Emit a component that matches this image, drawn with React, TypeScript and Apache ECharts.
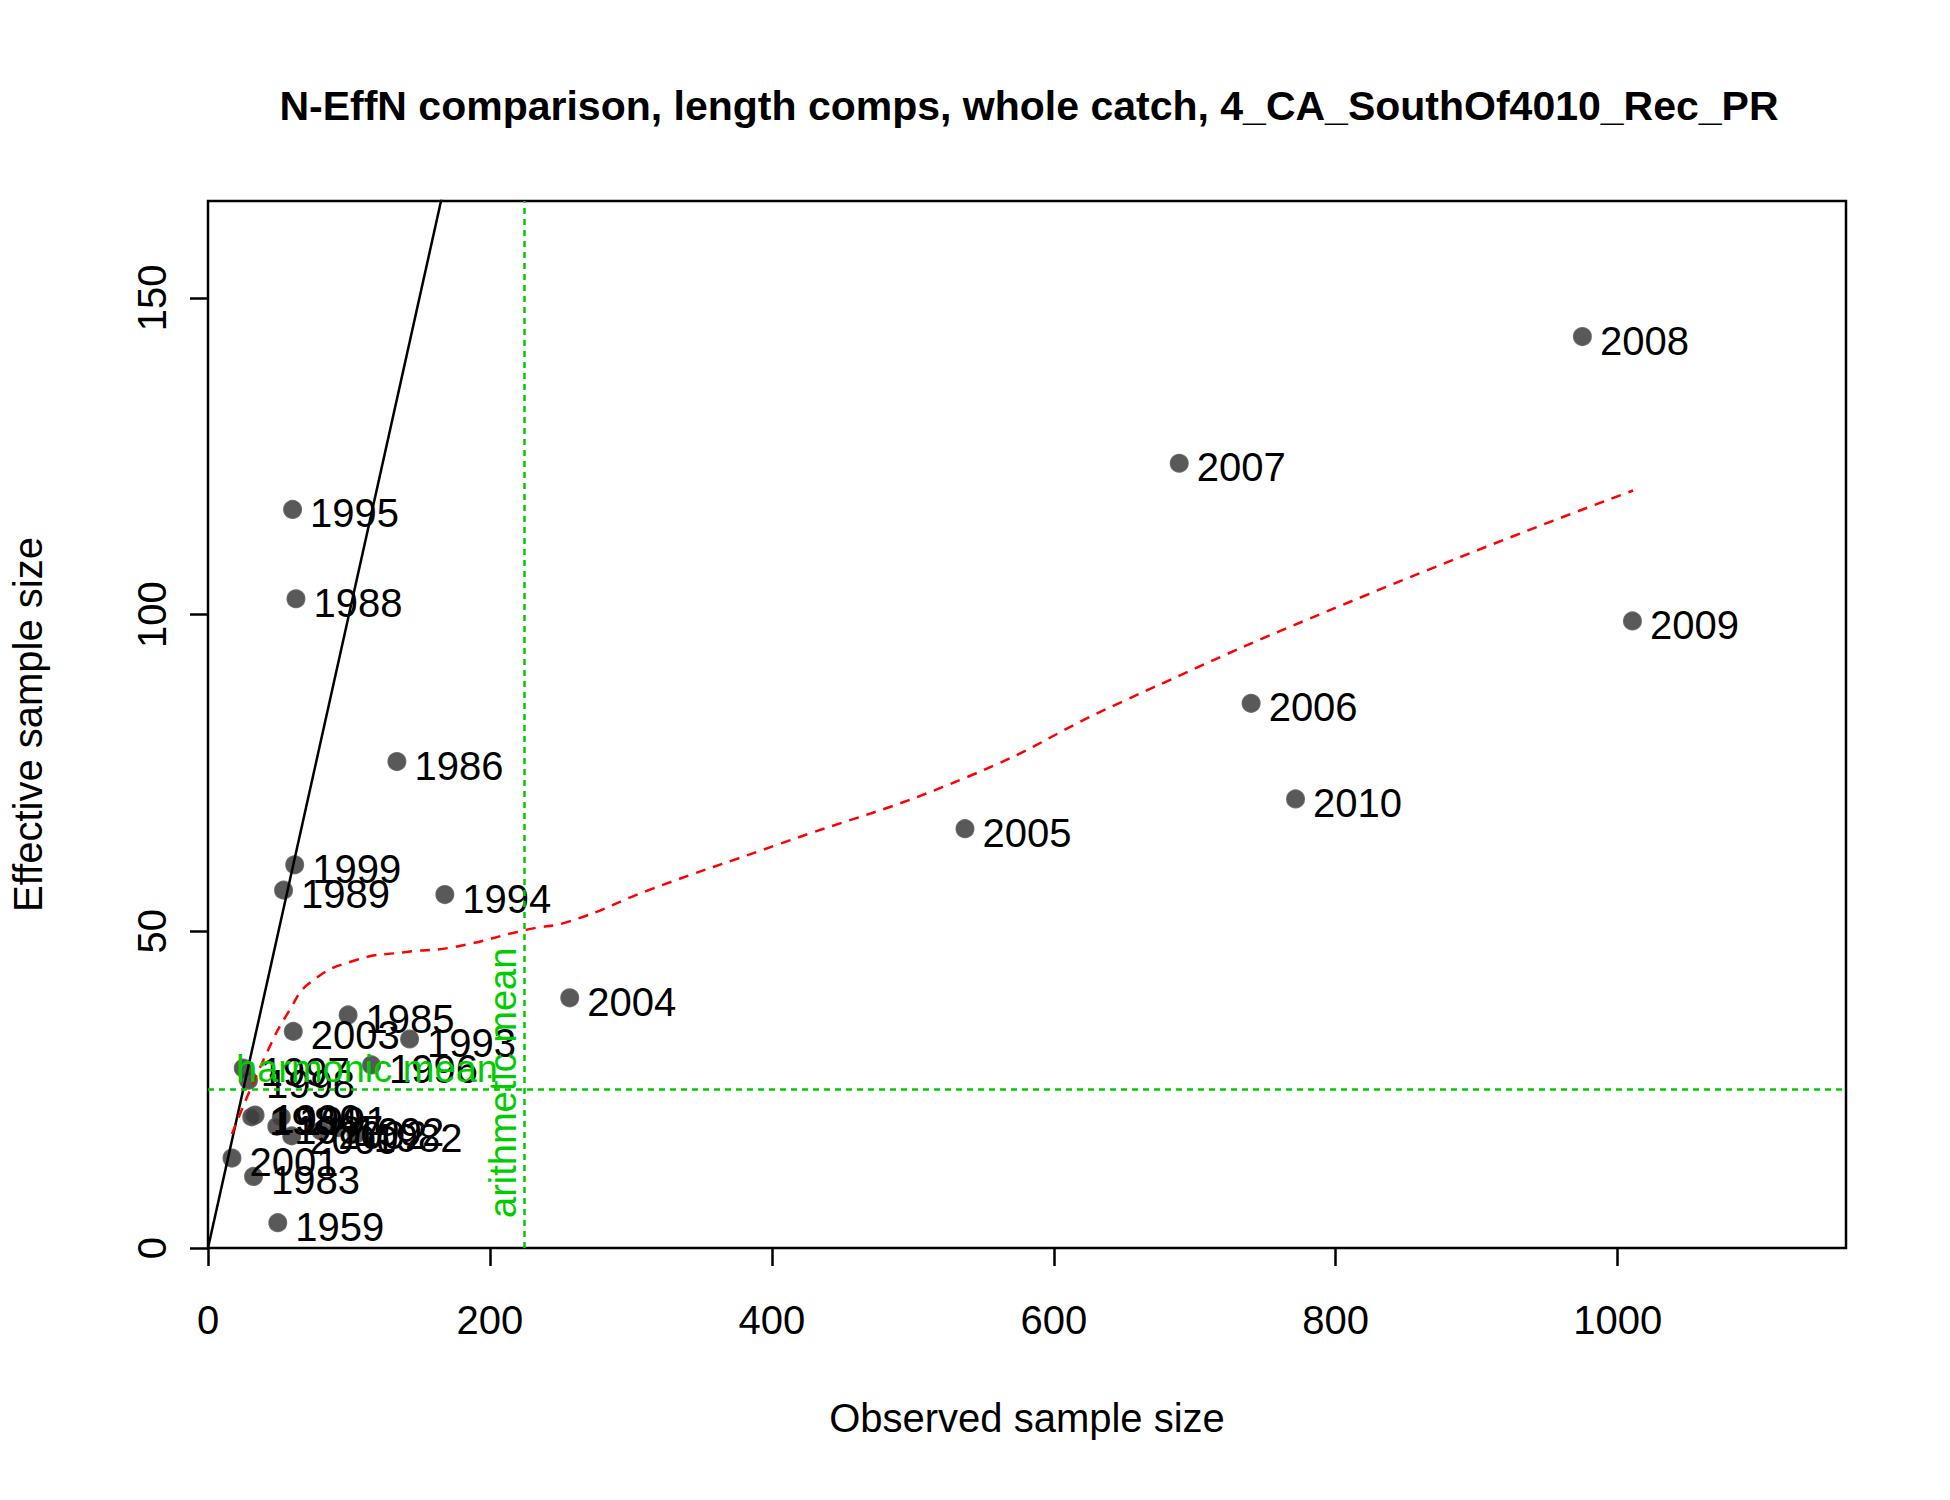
import { useEffect, useRef } from 'react'
import * as echarts from 'echarts'

const years = ['1995', '1988', '1986', '1999', '1989', '1994', '2004', '2005', '2007', '2008', '2009', '2006', '2010',
  '1985', '2003', '1993', '1996', '1997', '1998', '1990', '1984', '1991', '1987', '2000', '1992', '1982', '2002', '2001', '1983', '1959']
const observed = [60, 62.4, 134, 61.5, 53.6, 168, 256.6, 537, 689, 975, 1010.5, 740, 771.5,
  99.4, 60.5, 143, 116, 25, 28.7, 33.4, 31, 52, 48.8, 59.4, 92, 105, 80, 17, 32.3, 49.5]
const effective = [116.6, 102.5, 76.8, 60.5, 56.5, 55.8, 39.5, 66.2, 123.9, 143.9, 99, 86, 70.9,
  36.8, 34.2, 33, 28.9, 28.4, 26.5, 21, 20.7, 20.7, 19.2, 17.7, 19, 18, 18.5, 14.2, 11.3, 4]
const loessX = [17, 40, 58, 73, 104, 139, 174, 227, 257, 315, 403, 539, 648, 824, 1011]
const loessY = [18, 30, 37.6, 42, 45.4, 46.7, 47.5, 50.3, 51.6, 56.7, 63.6, 74.4, 86.2, 103.3, 119.6]
const harmonicMean = 25
const arithmeticMean = 224

const font = 'Liberation Sans, Arial, sans-serif'

function App() {
  const chartRef = useRef<HTMLDivElement | null>(null)

  useEffect(() => {
    if (!chartRef.current) return undefined
    const chart = echarts.init(chartRef.current, undefined, { renderer: 'svg' })
    const green = '#00cd00'
    const option: echarts.EChartsOption = {
      animation: false,
      backgroundColor: '#fff',
      title: {
        text: 'N-EffN comparison, length comps, whole catch, 4_CA_SouthOf4010_Rec_PR',
        left: 1024, top: 80, textAlign: 'center',
        textStyle: { fontFamily: font, fontSize: 41, fontWeight: 'bold', color: '#000' },
      },
      grid: { left: 203, right: 104, top: 201, bottom: 252, show: true, borderColor: '#000', borderWidth: 2.5, backgroundColor: 'transparent' },
      xAxis: {
        type: 'value', min: 0, max: 1162, interval: 200,
        name: 'Observed sample size', nameLocation: 'middle', nameGap: 150,
        nameTextStyle: { fontFamily: font, fontSize: 40, color: '#000' },
        axisLine: { show: false }, splitLine: { show: false },
        axisTick: { length: 18, lineStyle: { color: '#000', width: 2.5 } },
        axisLabel: { fontFamily: font, fontSize: 40, color: '#000', margin: 52, formatter: (v: number) => String(v), showMaxLabel: false },
      },
      yAxis: {
        type: 'value', min: 0, max: 165.3, interval: 50,
        name: 'Effective sample size', nameLocation: 'middle', nameGap: 160,
        nameTextStyle: { fontFamily: font, fontSize: 40, color: '#000' },
        axisLine: { show: false }, splitLine: { show: false },
        axisTick: { length: 18, lineStyle: { color: '#000', width: 2.5 } },
        axisLabel: { fontFamily: font, fontSize: 40, color: '#000', margin: 56, rotate: 90, verticalAlign: 'middle', showMaxLabel: false },
      },
      series: [
        {
          type: 'line', data: [[0, 0], [170, 170]], symbol: 'none', silent: true,
          lineStyle: { color: '#000', width: 2.5 }, clip: true,
        },
        {
          type: 'line', data: loessX.map((x, i) => [x, loessY[i]]), symbol: 'none', smooth: true,
          lineStyle: { color: '#ff0000', width: 2.5, type: [10, 8] },
          markLine: {
            symbol: 'none', silent: true,
            lineStyle: { color: green, width: 2.5, type: [6, 5] },
            data: [
              { yAxis: harmonicMean, label: { show: true, position: 'insideStartTop', formatter: 'harmonic mean', color: green, fontFamily: font, fontSize: 38, distance: [28, 2] } },
              { xAxis: arithmeticMean, label: { show: true, position: 'insideStartTop', formatter: 'arithmetic mean', color: green, fontFamily: font, fontSize: 38, distance: [30, 2] } },
            ],
          },
        },
        {
          type: 'scatter', symbolSize: 17,
          data: observed.map((x, i) => ({ value: [x, effective[i]], name: years[i] })),
          itemStyle: { color: '#3c3c3c', opacity: 0.85, borderColor: '#555', borderWidth: 2 },
          label: { show: true, position: 'right', distance: 8, formatter: (p: any) => p.name, color: '#000', opacity: 1, fontFamily: font, fontSize: 40, offset: [0, 4] },
        },
      ],
    }
    chart.setOption(option)
    return () => chart.dispose()
  }, [])

  return <div ref={chartRef} style={{ position: 'absolute', left: 0, top: 0, width: 1950, height: 1500 }} />
}

export default App
